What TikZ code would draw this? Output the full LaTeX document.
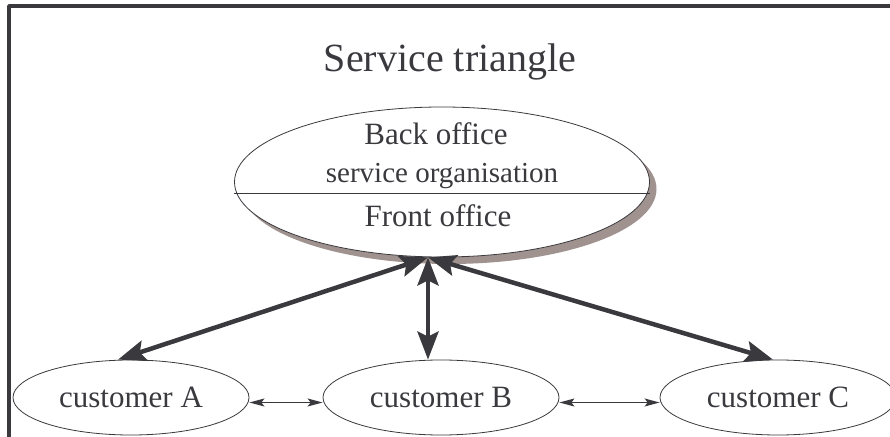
\documentclass[tikz,border=0pt]{standalone}
\usepackage{fontspec}
\setmainfont{Liberation Serif}
\usetikzlibrary{shapes.geometric,shadows,arrows.meta}
\definecolor{inkgray}{RGB}{58,57,62}
\definecolor{shadowbrown}{RGB}{160,146,143}
\tikzset{
  office/.style={ellipse, draw=inkgray, line width=0.8pt, fill=white, inner sep=0pt,
    minimum width=415pt, minimum height=150pt,
    drop shadow={shadow xshift=7pt, shadow yshift=-7pt, fill=shadowbrown, opacity=1}},
  customer/.style={ellipse, draw=inkgray, line width=0.8pt, inner sep=0pt,
    minimum width=236pt, minimum height=75pt, text=inkgray, font=\fontsize{31}{31}\selectfont},
  txt/.style={anchor=base, text=inkgray, font=\fontsize{31}{31}\selectfont},
  bigarrow/.style={draw=inkgray, line width=4.5pt,
    {Stealth[length=28pt,width=21pt,inset=5pt]}-{Stealth[length=28pt,width=21pt,inset=5pt]}},
  smallarrow/.style={draw=inkgray, line width=1.3pt,
    {Stealth[length=15pt,width=8pt,inset=3pt]}-{Stealth[length=15pt,width=8pt,inset=3pt]}}
}
\begin{document}
\begin{tikzpicture}[x=1pt, y=1pt, line join=round]
    \useasboundingbox (0,0) rectangle (890,436);
    %\draw[color=gray!50,dashed] (0,0) grid[step=50] (890,436);
    \draw[inkgray, line width=3.5pt] (9,-5)--(9,430)--(900,430);
    \node[txt, font=\fontsize{40}{40}\selectfont] (title) at (450,364) {Service triangle};
    % the service organisation
    \node[office] (main) at (442,254) {};
    \draw[inkgray, line width=0.8pt] ([yshift=-11pt]main.west)--([yshift=-11pt]main.east);
    \node[txt] (back) at (436,291) {Back office};
    \node[txt, font=\fontsize{29}{29}\selectfont] (org) at (442,253) {service organisation};
    \node[txt] (front) at (438,209) {Front office};
    \coordinate (hub) at ([xshift=-14pt]main.south);
    % customers
    \node[customer] (custA) at (131,38.5) {customer A};
    \node[customer] (custB) at (441,38.5) {customer B};
    \node[customer] (custC) at (778,38.5) {customer C};
    \draw[bigarrow] (hub)--([xshift=-13pt]custA.north);
    \draw[bigarrow] (hub)--([xshift=-13pt]custB.north);
    \draw[bigarrow] (hub)--([xshift=-5pt]custC.north);
    \draw[smallarrow] ([yshift=-5pt]custA.east)--([yshift=-5pt]custB.west);
    \draw[smallarrow] ([yshift=-5pt]custB.east)--([yshift=-5pt]custC.west);
\end{tikzpicture}
\end{document}
